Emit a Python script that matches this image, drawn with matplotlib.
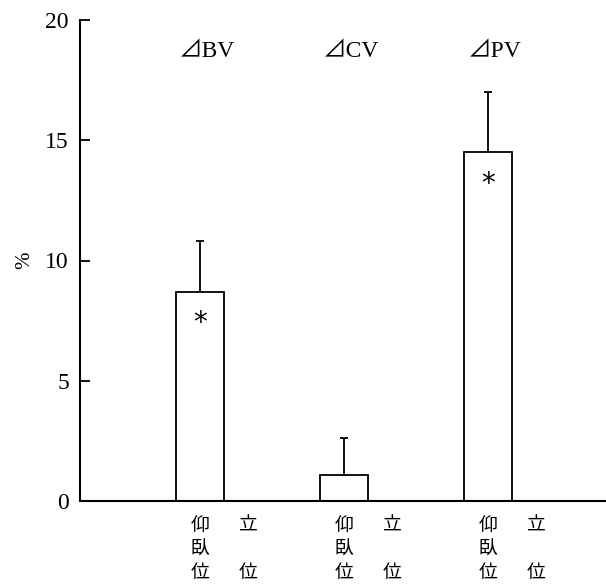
import matplotlib
matplotlib.use("Agg")
import matplotlib.pyplot as plt
import numpy as np

# data
groups = ["\u22bfBV", "\u22bfCV", "\u22bfPV"]
supine_mean = [8.7, 1.1, 14.5]
supine_sd = [2.1, 1.5, 2.5]
standing_mean = [0.0, 0.0, 0.0]
star = [True, False, True]
yticks = [0, 5, 10, 15, 20]

serif = ["Liberation Serif", "Noto Sans CJK JP", "DejaVu Serif"]
cjk = ["Noto Sans CJK JP", "DejaVu Sans"]

fig = plt.figure(figsize=(6.06, 5.84), dpi=100)
ax = fig.add_axes([80 / 606, 83 / 584, 526 / 606, 481 / 584])

x_sup = np.arange(len(groups)) * 3.0
x_std = x_sup + 1.0

ax.bar(x_sup, supine_mean, width=1.0, color="white", edgecolor="black",
       linewidth=1.3, zorder=2)
ax.errorbar(x_sup, supine_mean, yerr=[np.zeros(3), supine_sd], fmt="none",
            ecolor="black", elinewidth=1.3, capsize=3, capthick=1.3, zorder=1)

for i, g in enumerate(groups):
    ax.text(x_sup[i] + 0.15, 18.7, g, ha="center", va="center",
            fontsize=17, family=serif)
    if star[i]:
        ax.text(x_sup[i], supine_mean[i] - 1.3, "*", ha="center", va="center",
                fontsize=20, family=["DejaVu Sans"])
    for ch, yy in zip("仰臥位", [-1.0, -2.02, -2.98]):
        ax.text(x_sup[i], yy, ch, ha="center", va="center", fontsize=13.5,
                family=cjk)
    for ch, yy in zip("立位", [-1.0, -2.98]):
        ax.text(x_std[i], yy, ch, ha="center", va="center", fontsize=13.5,
                family=cjk)

ax.set_xlim(-2.5, 8.46)
ax.set_ylim(0, 20)
ax.set_yticks(yticks)
ax.set_yticklabels([str(t) for t in yticks], family=serif, fontsize=17)
ax.set_xticks([])
ax.tick_params(axis="y", direction="in", length=7, width=1.3, pad=8)
ax.spines["top"].set_visible(False)
ax.spines["right"].set_visible(False)
ax.spines["left"].set_linewidth(1.5)
ax.spines["bottom"].set_linewidth(1.5)
ax.set_ylabel("%", family=serif, fontsize=15, labelpad=8)

fig.savefig("out.png", dpi=100, facecolor="white")
